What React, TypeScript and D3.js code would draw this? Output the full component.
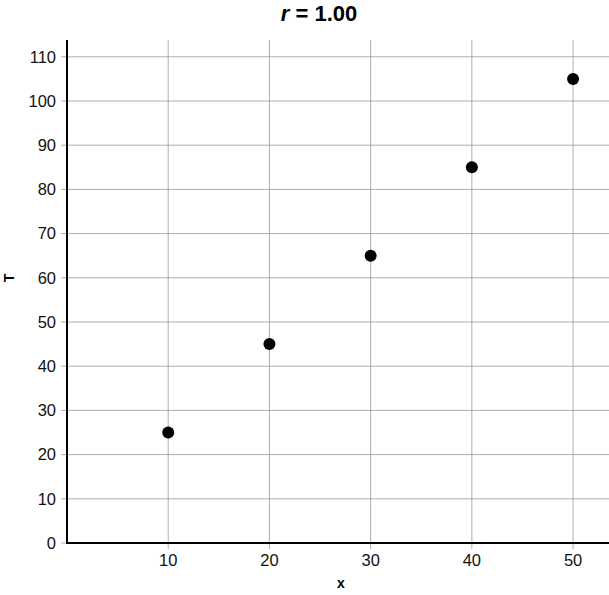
import React from "react";
import * as d3 from "d3";

const xValues = [10, 20, 30, 40, 50];
const tValues = [25, 45, 65, 85, 105];
const xTicks = [10, 20, 30, 40, 50];
const yTicks = [0, 10, 20, 30, 40, 50, 60, 70, 80, 90, 100, 110];

const W = 609;
const H = 595;
const left = 67;
const right = 609;
const top = 40;
const bottom = 543;

export default function App() {
  const x = d3.scaleLinear().domain([0, 53.55]).range([left, right]);
  const y = d3.scaleLinear().domain([0, 113.8]).range([bottom, top]);
  const font = "'Liberation Sans', Arial, Helvetica, sans-serif";
  return (
    <svg
      width={W}
      height={H}
      style={{ position: "absolute", left: 0, top: 0, background: "#fff", fontFamily: font }}
    >
      <rect x={0} y={0} width={W} height={H} fill="#fff" />
      {xTicks.map((t) => (
        <line key={"gx" + t} x1={x(t)} x2={x(t)} y1={top} y2={bottom + 6} stroke="#999" strokeWidth={0.8} />
      ))}
      {yTicks.map((t) => (
        <line key={"gy" + t} x1={left - 6} x2={right} y1={y(t)} y2={y(t)} stroke="#999" strokeWidth={0.8} />
      ))}
      {yTicks.map((t) => (
        <text key={"ty" + t} x={left - 11} y={y(t)} dy="0.35em" textAnchor="end" fontSize={16.5} fill="#111">
          {t}
        </text>
      ))}
      {xTicks.map((t) => (
        <text key={"tx" + t} x={x(t)} y={566} textAnchor="middle" fontSize={16.5} fill="#111">
          {t}
        </text>
      ))}
      <line x1={left} x2={left} y1={top} y2={bottom + 1} stroke="#000" strokeWidth={2} />
      <line x1={left} x2={right} y1={bottom} y2={bottom} stroke="#000" strokeWidth={2} />
      {xValues.map((v, i) => (
        <circle key={"p" + i} cx={x(v)} cy={y(tValues[i])} r={6} fill="#000" />
      ))}
      <text x={341} y={588} textAnchor="middle" fontSize={14} fontWeight="bold">x</text>
      <text transform="translate(14,278) rotate(-90)" textAnchor="middle" fontSize={14} fontWeight="bold">T</text>
      <text x={319} y={21} textAnchor="middle" fontSize={22} fontWeight="bold" style={{ whiteSpace: "pre" }}>
        <tspan fontStyle="italic">r</tspan>
        <tspan>{" = 1.00"}</tspan>
      </text>
    </svg>
  );
}
